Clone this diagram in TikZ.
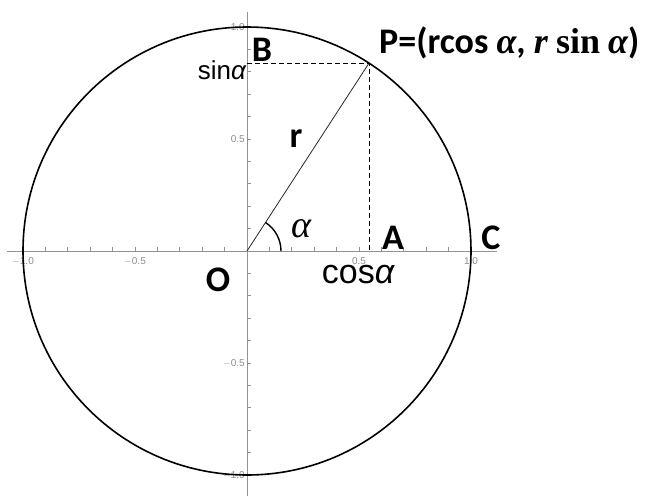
\documentclass[tikz,border=0pt]{standalone}
\usepackage{fontspec}
\setmainfont{Carlito}
\newfontfamily\arialfont{Liberation Sans}
\newfontfamily\greekfont{Liberation Serif}
\usetikzlibrary{positioning,calc}

\begin{document}
\begin{tikzpicture}[
			x=1pt,y=1pt,
			axis/.style={draw=gray!85,line width=0.9pt},
			tick/.style={draw=gray!85,line width=0.8pt},
			ticklbl/.style={font=\arialfont\fontsize{10}{11}\selectfont,text=gray!90,inner sep=1pt},
			ptlbl/.style={font=\fontsize{36}{38}\selectfont\bfseries,inner sep=0pt},
			trig/.style={inner sep=0pt},
			guide/.style={dashed,line width=0.8pt,dash pattern=on 5pt off 3pt}
			]
			\useasboundingbox (-247,-245) rectangle (398,251);
			
			\coordinate (O) at (0,0);
			\coordinate (P) at (57:224);
			\coordinate (Afoot) at (P |- O);
			\coordinate (Bfoot) at (P -| O);
			\coordinate (xl) at (-240,0);
			\coordinate (xr) at (250,0);
			\coordinate (yb) at (0,-245);
			\coordinate (yt) at (0,239);
			
			% axes with ticks
			\draw[axis] (xl) -- (xr);
			\draw[axis] (yb) -- (yt);
			\foreach \i in {-10,...,-1,1,2,...,10} {
				\draw[tick] (\i*22.4,0) -- ++(0,4);
				\draw[tick] (0,\i*22.4) -- ++(4,0);
			}
			\foreach \v/\t in {-10/$-$1.0,-5/$-$0.5,5/0.5,10/1.0} {
				\node[ticklbl] (xt\v) at (\v*22.4,-10) {\t};
				\node[ticklbl,left=1pt] (yt\v) at (0,\v*22.4) {\t};
			}
			
			% circle, radius and projections
			\draw[line width=1.6pt] (O) circle (224);
			\draw[line width=0.8pt,black!85] (O) -- (P);
			\draw[guide] (Bfoot) -- (P) -- (Afoot);
			\draw[line width=1.4pt] (34,0) arc (0:57:34);
			
			% labels
			\node[ptlbl] (lblB) at (15,201) {B};
			\node[ptlbl] (lblr) at (49,112) {r};
			\node[ptlbl] (lblA) at (146,13) {A};
			\node[ptlbl] (lblC) at (244,13) {C};
			\node[ptlbl] (lblO) at (-29,-29) {O};
			\node[inner sep=0pt,font=\greekfont\itshape\fontsize{38}{40}\selectfont] (lbla) at (54,22) {α};
			\node[trig,font=\arialfont\fontsize{26}{28}\selectfont,anchor=base] (lblsin) at (-25,172) {sin{\itshape α}};
			\node[trig,font=\arialfont\fontsize{34}{36}\selectfont,anchor=base] (lblcos) at (111,-32) {cos{\itshape α}};
			\node[ptlbl,font=\fontsize{36}{38}\selectfont\bfseries,anchor=west] (lblP) at (132,208)
				{P=(rcos {\greekfont\itshape α}, {\greekfont\itshape r} {\greekfont sin} {\greekfont\itshape α})};
			
		\end{tikzpicture}
\end{document}
